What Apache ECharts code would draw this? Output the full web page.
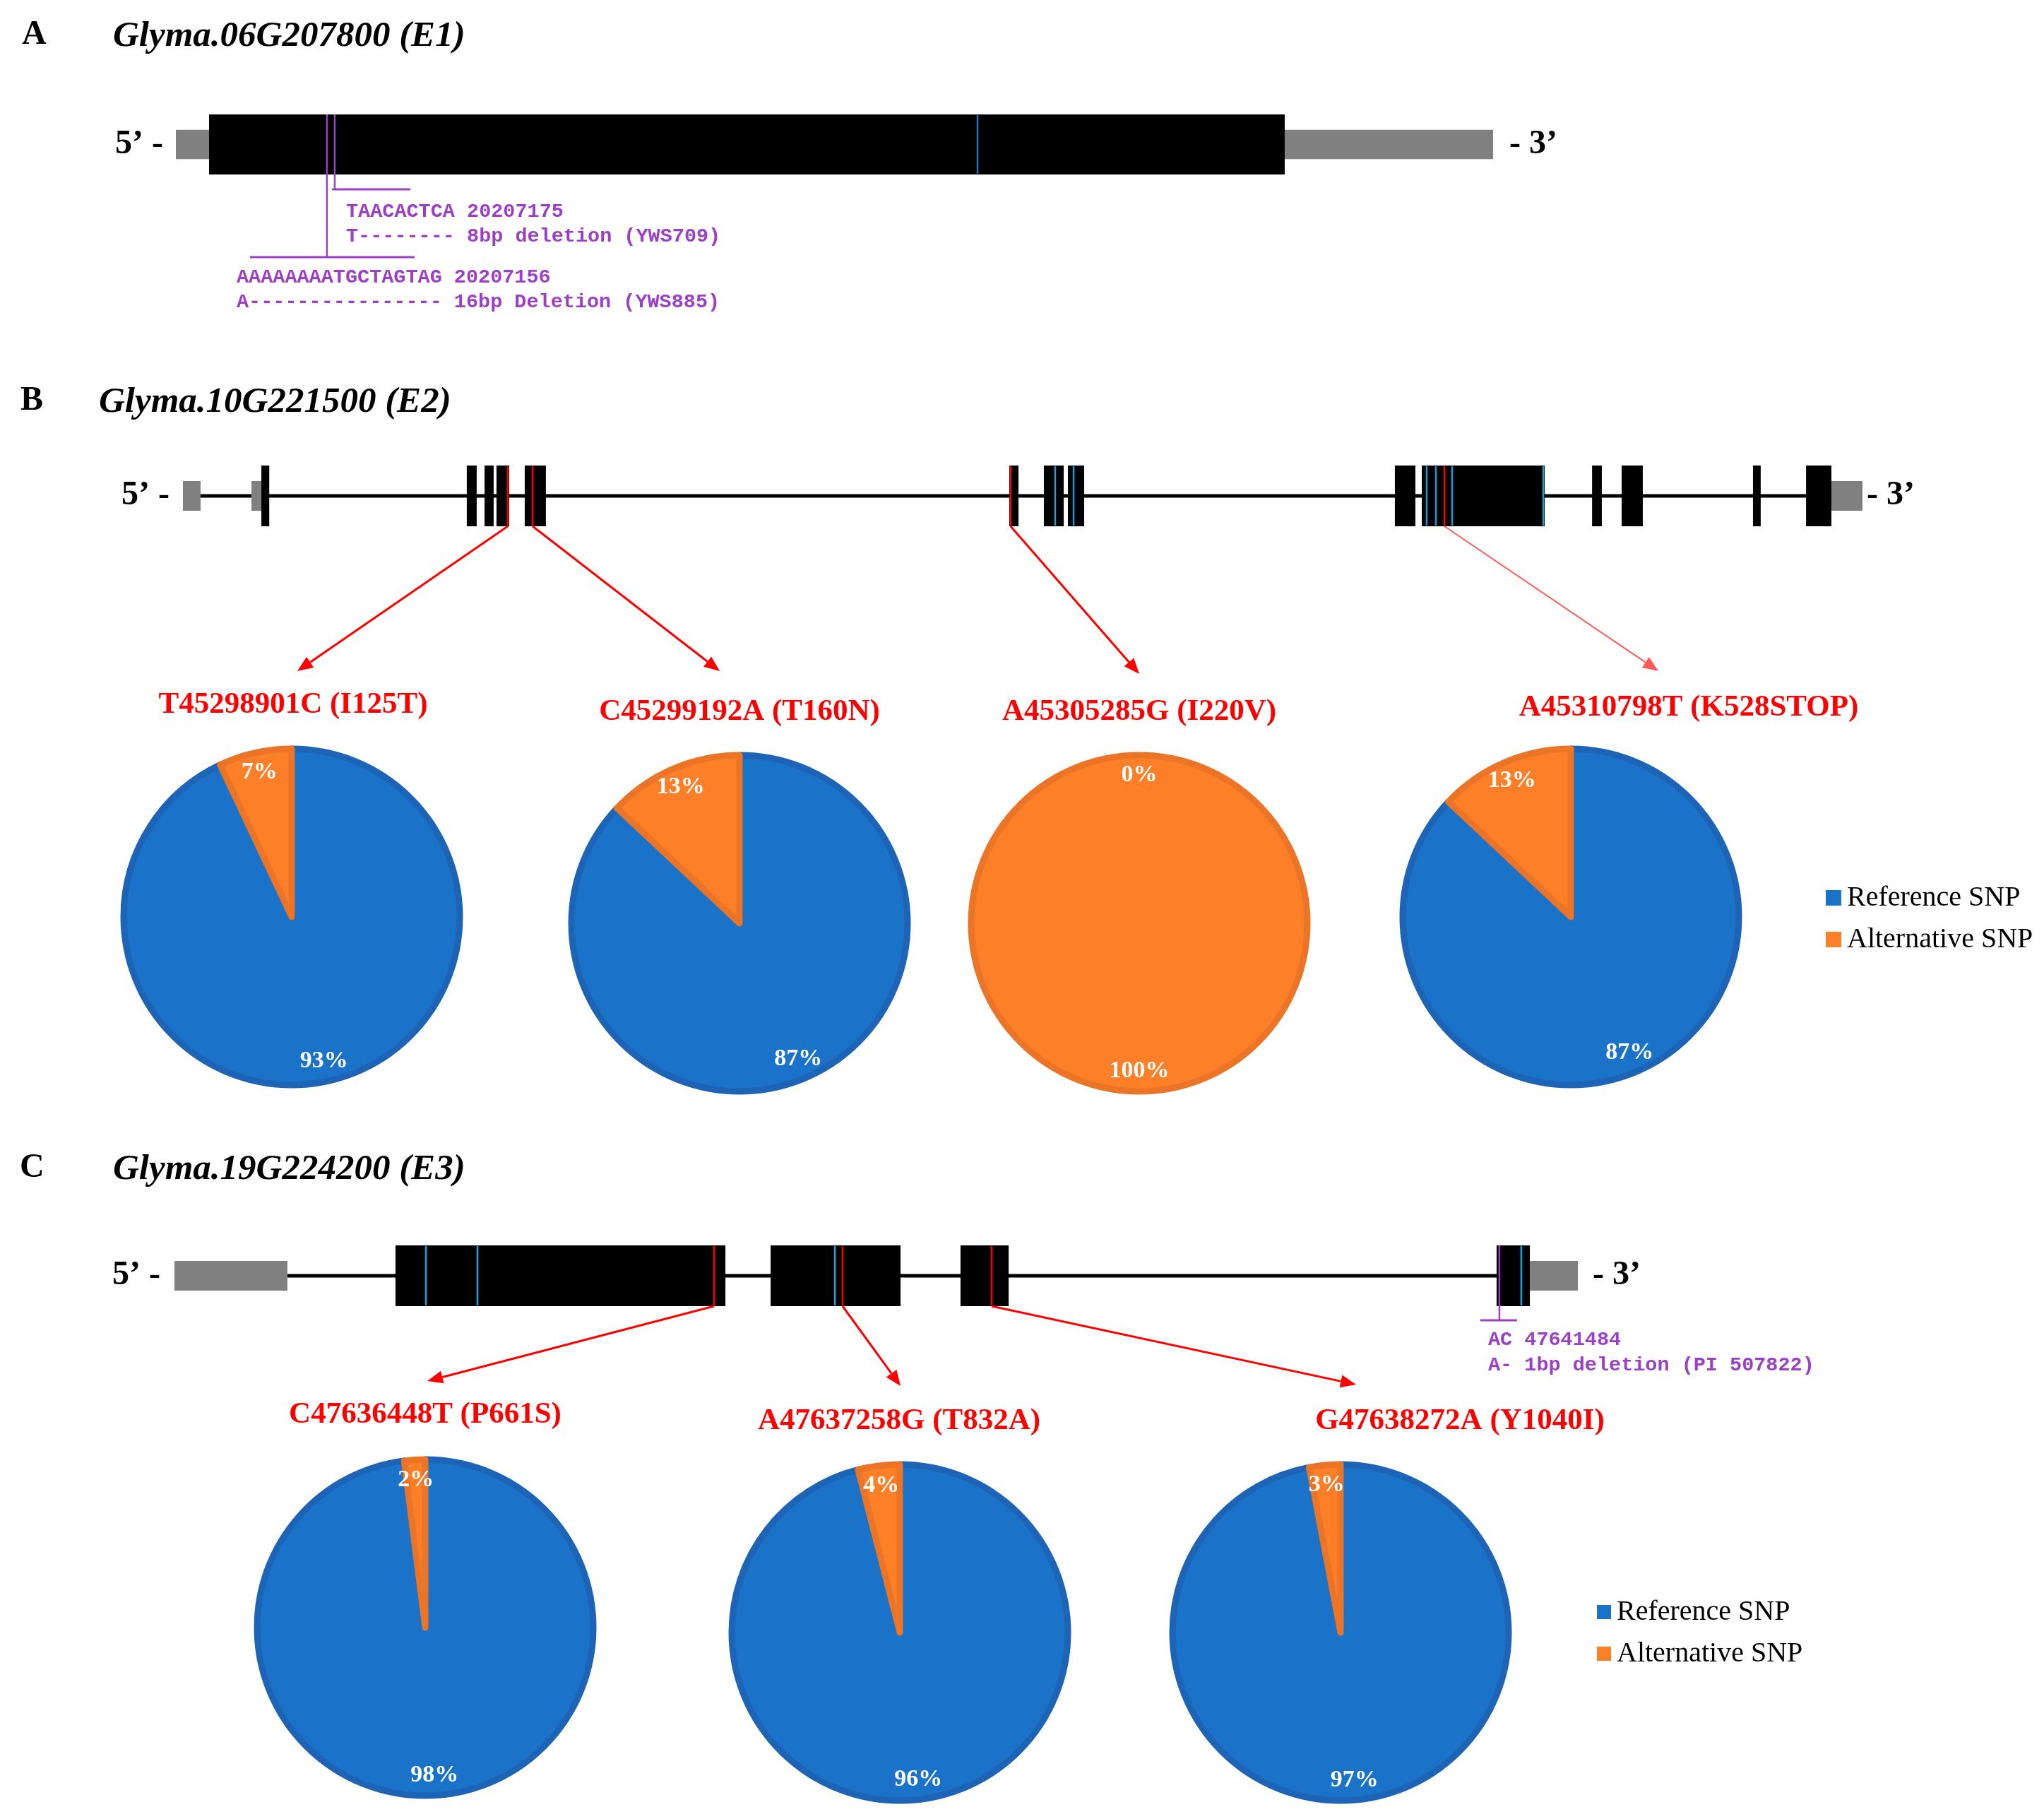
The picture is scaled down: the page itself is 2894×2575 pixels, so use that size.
<!DOCTYPE html>
<html><head><meta charset="utf-8">
<script src="https://cdn.jsdelivr.net/npm/echarts@6/dist/echarts.min.js"></script>
<style>html,body{margin:0;padding:0;background:#fff}#c{width:2894px;height:2575px}</style>
</head><body><div id="c"></div><script>
// ================= DATA =================
// Gene models: positions in relative track units (0 = left end of drawn model, 1000 = right end)
const panelLetters = ['A', 'B', 'C'];
const geneNames = ['Glyma.06G207800 (E1)', 'Glyma.10G221500 (E2)', 'Glyma.19G224200 (E3)'];

// Gene A (E1)
const utrA = [[0, 25.2], [841.8, 1000]];
const exonsA = [[25.2, 841.8]];
const intronsA = [];
const redSnpA = [];
const blueSnpA = [608.6];
const deletionsA = [114.7, 120.6];
const deletionTextA = [
  ['AAAAAAAATGCTAGTAG 20207156', 'A---------------- 16bp Deletion (YWS885)'],
  ['TAACACTCA 20207175', 'T-------- 8bp deletion (YWS709)']
];

// Gene B (E2)
const utrB = [[0, 10.5], [40.8, 46.7], [981.5, 1000]];
const exonsB = [[46.7, 51.4], [169.0, 174.9], [179.6, 185.0], [186.7, 194.3], [203.5, 216.1],
  [492.0, 497.5], [512.6, 524.4], [526.9, 536.6], [721.6, 733.8], [737.6, 810.8],
  [839.0, 844.8], [856.6, 869.2], [934.8, 939.4], [966.4, 981.5]];
const intronsB = [[10.5, 966.4]];
const redSnpB = [193.4, 208.2, 492.8, 751.1];
const blueSnpB = [519.3, 530.3, 740.5, 746.0, 755.7, 809.9];
const deletionsB = [];

// Gene C (E3)
const utrC = [[0, 80.5], [965.8, 1000]];
const exonsC = [[157.5, 392.6], [424.8, 517.4], [560.1, 594.4], [942.1, 965.8]];
const intronsC = [[80.5, 942.1]];
const redSnpC = [384.5, 476.1, 582.3];
const blueSnpC = [179.2, 215.9, 470.6, 959.7];
const deletionsC = [944.1];
const deletionTextC = [['AC 47641484', 'A- 1bp deletion (PI 507822)']];

// SNP allele frequencies (%)
const legendNames = ['Reference SNP', 'Alternative SNP'];
const snpTitlesB = ['T45298901C (I125T)', 'C45299192A (T160N)', 'A45305285G (I220V)', 'A45310798T (K528STOP)'];
const refPctB = [93, 87, 0, 87];
const altPctB = [7, 13, 100, 13];
const snpTitlesC = ['C47636448T (P661S)', 'A47637258G (T832A)', 'G47638272A (Y1040I)'];
const refPctC = [98, 96, 97];
const altPctC = [2, 4, 3];

// ================= LAYOUT / STYLE =================
const BLUE = '#1a73c9', BLUE_B = '#1d64b6', ORANGE = '#fd7f28', ORANGE_B = '#ec7426';
const RED = '#ff0000', PURPLE = '#9b40c6', GRAY = '#808080';
const SERIF = '"Liberation Serif", "Times New Roman", serif';
const MONO = '"Liberation Mono", "Courier New", monospace';
const grids = [
  {left: 249, width: 1865, top: 162, height: 85},
  {left: 259, width: 2378, top: 659, height: 86},
  {left: 247, width: 1987, top: 1763, height: 86}
];
const headerPos = [{lx: 31, tx: 160, y: 50}, {lx: 29, tx: 140, y: 568}, {lx: 28, tx: 160, y: 1654}];
const primePos = [{r5: 231, l3: 2137}, {r5: 240, l3: 2643}, {r5: 227, l3: 2255}];
const blueColors = ['#2c6db5', '#1c9ad6', '#1ea3df'];
// deletion marker geometry (pixels): drop below exon bottom, bar extent left/right of line
const delGeomA = [{drop: 117, left: 109, right: 124}, {drop: 21, left: 4, right: 107}];
const delGeomC = [{drop: 20, left: 27, right: 25}];
const delTextPosA = [{x: 335, y: 393}, {x: 490, y: 300}];
const delTextPosC = [{x: 2107, y: 1897}];
const pieR = 238;
const pieCentersB = [[413, 1298], [1047, 1307], [1613, 1307], [2224, 1298]];
const pieTitlePosB = [[415, 998], [1047, 1008], [1613, 1008], [2391, 1002]];
const arrowEndsB = [[421, 950], [1019, 950], [1613, 954], [2348, 950]];
const pieCentersC = [[602, 2304], [1274, 2311], [1898, 2311]];
const pieTitlePosC = [[602, 2003], [1273, 2012], [2067, 2012]];
const arrowEndsC = [[605, 1955], [1275, 1962], [1920, 1960]];

// ================= BUILD =================
function rectRender(half, color) {
  return function (params, api) {
    const p0 = api.coord([api.value(0), half]);
    const p1 = api.coord([api.value(1), -half]);
    return {type: 'rect', shape: {x: p0[0], y: p0[1], width: p1[0] - p0[0], height: p1[1] - p0[1]}, style: {fill: color}};
  };
}
function intronRender(params, api) {
  const p0 = api.coord([api.value(0), 0]);
  const p1 = api.coord([api.value(1), 0]);
  return {type: 'line', shape: {x1: p0[0], y1: p0[1], x2: p1[0], y2: p1[1]}, style: {stroke: '#000', lineWidth: 5}};
}
function snpRender(color, w) {
  return function (params, api) {
    const p0 = api.coord([api.value(0), 1]);
    const p1 = api.coord([api.value(0), -1]);
    return {type: 'line', shape: {x1: p0[0], y1: p0[1] + 1, x2: p1[0], y2: p1[1] - 1}, style: {stroke: color, lineWidth: w}};
  };
}
function delRender(geom) {
  return function (params, api) {
    const g = geom[params.dataIndex];
    const p0 = api.coord([api.value(0), 1]);
    const p1 = api.coord([api.value(0), -1]);
    const yb = p1[1] + g.drop;
    return {type: 'group', children: [
      {type: 'line', shape: {x1: p0[0], y1: p0[1], x2: p0[0], y2: yb}, style: {stroke: PURPLE, lineWidth: 2.5}},
      {type: 'line', shape: {x1: p0[0] - g.left, y1: yb, x2: p0[0] + g.right, y2: yb}, style: {stroke: PURPLE, lineWidth: 3}}
    ]};
  };
}
function geneSeries(gi, g) {
  const base = {type: 'custom', xAxisIndex: gi, yAxisIndex: gi, silent: true, clip: false, animation: false};
  return [
    Object.assign({}, base, {data: g.introns, renderItem: intronRender, z: 1}),
    Object.assign({}, base, {data: g.utr, renderItem: rectRender(0.49, GRAY), z: 2}),
    Object.assign({}, base, {data: g.exons, renderItem: rectRender(1, '#000'), z: 3}),
    Object.assign({}, base, {data: g.blue.map(v => [v]), renderItem: snpRender(blueColors[gi], 2.5), z: 4}),
    Object.assign({}, base, {data: g.red.map(v => [v]), renderItem: snpRender(RED, 2.5), z: 4}),
    Object.assign({}, base, {data: g.dels.map(v => [v]), renderItem: delRender(g.delGeom || []), z: 5})
  ];
}
const genes = [
  {utr: utrA, exons: exonsA, introns: intronsA, red: redSnpA, blue: blueSnpA, dels: deletionsA, delGeom: delGeomA},
  {utr: utrB, exons: exonsB, introns: intronsB, red: redSnpB, blue: blueSnpB, dels: deletionsB},
  {utr: utrC, exons: exonsC, introns: intronsC, red: redSnpC, blue: blueSnpC, dels: deletionsC, delGeom: delGeomC}
];

function pieData(ref, alt, withStyle) {
  const vals = [ref, alt];
  return legendNames.map((n, i) => {
    const d = {name: n, value: vals[i]};
    if (withStyle) d.itemStyle = {borderColor: i === 0 ? BLUE_B : ORANGE_B, borderWidth: vals[i] === 0 ? 2 : 9};
    return d;
  });
}
const pieSeries = [], labelSeries = [];
function addPies(centers, refs, alts) {
  centers.forEach((c, i) => {
    pieSeries.push({type: 'pie', center: c, radius: pieR, startAngle: 90, clockwise: true,
      silent: true, label: {show: false}, labelLine: {show: false}, emphasis: {disabled: true},
      data: pieData(refs[i], alts[i], true)});
    labelSeries.push({type: 'pie', center: c, radius: [pieR * 0.72, pieR + 4], startAngle: 90, clockwise: true,
      silent: true, avoidLabelOverlap: false, minShowLabelAngle: 0, emphasis: {disabled: true},
      itemStyle: {color: 'rgba(0,0,0,0)', borderWidth: 0},
      label: {show: true, position: 'inside', formatter: '{c}%', color: '#fff', fontFamily: SERIF, fontWeight: 'bold', fontSize: 34},
      labelLine: {show: false}, data: pieData(refs[i], alts[i], false)});
  });
}
addPies(pieCentersB, refPctB, altPctB);
addPies(pieCentersC, refPctC, altPctC);

function legendAt(left, top, size) {
  return {data: legendNames, orient: 'vertical', left: left, top: top, icon: 'rect', itemWidth: size, itemHeight: size,
    itemGap: 19, selectedMode: false, padding: 0, itemStyle: {borderWidth: 0},
    textStyle: {fontFamily: SERIF, fontSize: 40, lineHeight: 40, color: '#000', padding: [0, 0, 0, 3]}};
}

const chart = echarts.init(document.getElementById('c'), null, {renderer: 'canvas', width: 2894, height: 2575});
chart.setOption({
  animation: false,
  backgroundColor: '#fff',
  color: [BLUE, ORANGE],
  grid: grids,
  xAxis: grids.map((g, i) => ({gridIndex: i, type: 'value', min: 0, max: 1000, show: false})),
  yAxis: grids.map((g, i) => ({gridIndex: i, type: 'value', min: -1, max: 1, show: false})),
  legend: [legendAt(2585, 1251, 22), legendAt(2261, 2262, 20)],
  series: [].concat(geneSeries(0, genes[0]), geneSeries(1, genes[1]), geneSeries(2, genes[2]), pieSeries, labelSeries)
});

// ---- text & annotation graphics ----
const gfx = [];
function txt(x, y, text, font, fill, align) {
  gfx.push({type: 'text', x: x, y: y, silent: true, z: 100,
    style: {text: text, font: font, fill: fill, textAlign: align || 'left', textVerticalAlign: 'middle', textBaseline: 'middle'}});
}
headerPos.forEach((h, i) => {
  txt(h.lx, h.y, panelLetters[i], 'bold 48px ' + SERIF, '#000');
  txt(h.tx, h.y + 2, geneNames[i], 'italic bold 51px ' + SERIF, '#000');
});
grids.forEach((g, i) => {
  const yc = g.top + g.height / 2;
  txt(primePos[i].r5, yc, '5\u2019 -', 'bold 48px ' + SERIF, '#000', 'right');
  txt(primePos[i].l3, yc, '- 3\u2019', 'bold 48px ' + SERIF, '#000', 'left');
});
deletionTextA.forEach((lines, i) => {
  txt(delTextPosA[i].x, delTextPosA[i].y, lines[0], 'bold 28.5px ' + MONO, PURPLE);
  txt(delTextPosA[i].x, delTextPosA[i].y + 35, lines[1], 'bold 28.5px ' + MONO, PURPLE);
});
deletionTextC.forEach((lines, i) => {
  txt(delTextPosC[i].x, delTextPosC[i].y, lines[0], 'bold 28.5px ' + MONO, PURPLE);
  txt(delTextPosC[i].x, delTextPosC[i].y + 36, lines[1], 'bold 28.5px ' + MONO, PURPLE);
});
snpTitlesB.forEach((t, i) => txt(pieTitlePosB[i][0], pieTitlePosB[i][1], t, 'bold 43px ' + SERIF, RED, 'center'));
snpTitlesC.forEach((t, i) => txt(pieTitlePosC[i][0], pieTitlePosC[i][1], t, 'bold 43px ' + SERIF, RED, 'center'));

function arrow(s, e, color, w) {
  const dx = e[0] - s[0], dy = e[1] - s[1], len = Math.hypot(dx, dy), ux = dx / len, uy = dy / len;
  const hl = 22, hw = 9;
  const bx = e[0] - ux * hl, by = e[1] - uy * hl;
  gfx.push({type: 'line', silent: true, z: 90, shape: {x1: s[0], y1: s[1], x2: bx, y2: by}, style: {stroke: color, lineWidth: w}});
  gfx.push({type: 'polygon', silent: true, z: 90, shape: {points: [[e[0], e[1]], [bx - uy * hw, by + ux * hw], [bx + uy * hw, by - ux * hw]]}, style: {fill: color}});
}
redSnpB.forEach((v, i) => {
  const s = chart.convertToPixel({gridIndex: 1}, [v, -1]);
  arrow(s, arrowEndsB[i], i === 3 ? '#ff5a5a' : RED, i === 3 ? 2 : 3);
});
redSnpC.forEach((v, i) => {
  const s = chart.convertToPixel({gridIndex: 2}, [v, -1]);
  arrow(s, arrowEndsC[i], RED, 3);
});
chart.setOption({graphic: gfx});
</script></body></html>
